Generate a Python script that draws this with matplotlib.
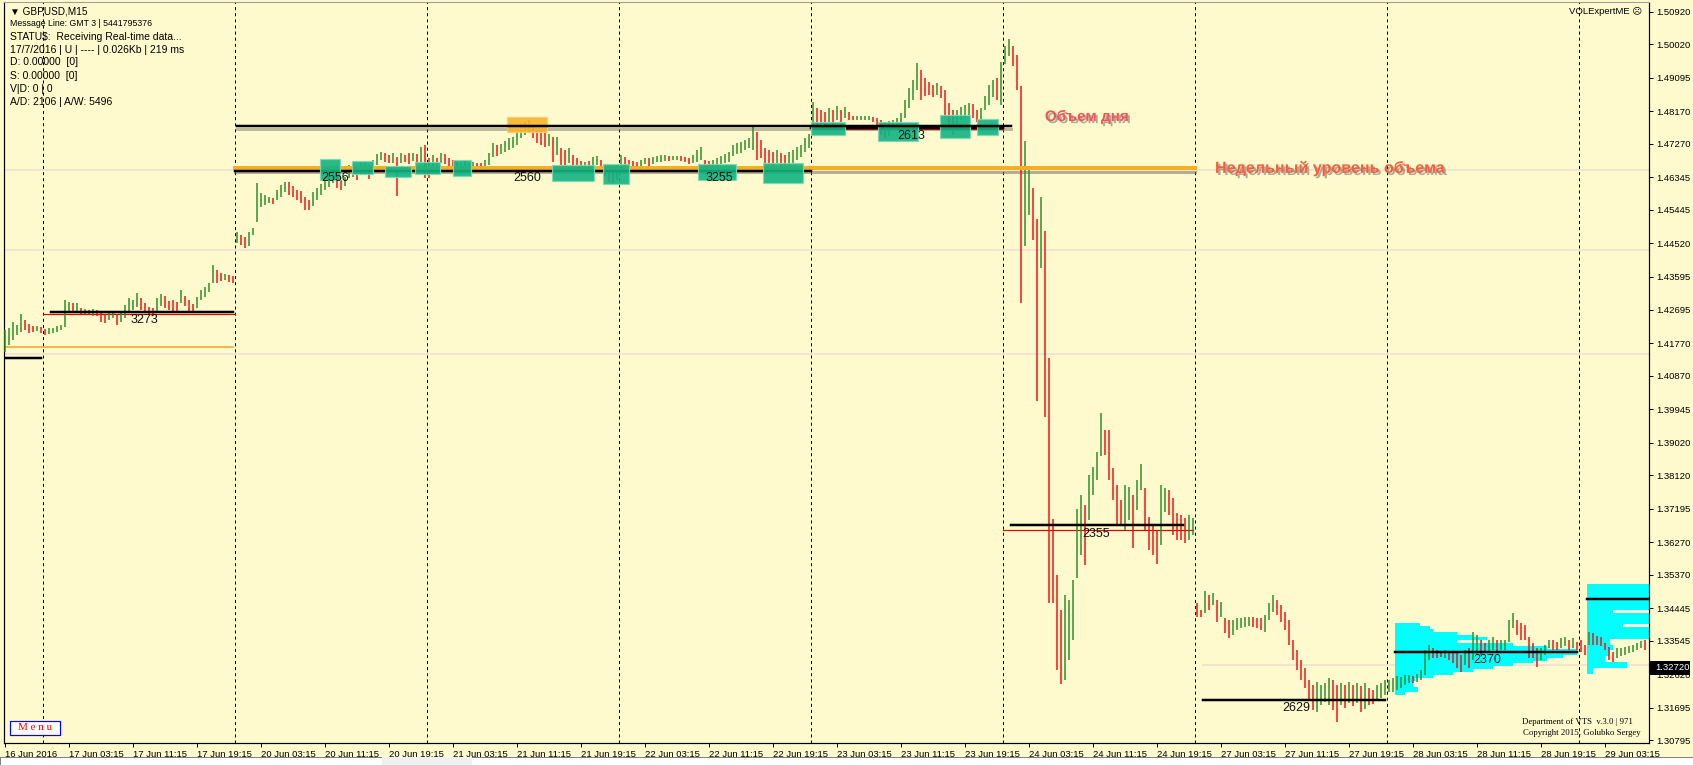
import matplotlib
matplotlib.use('Agg')
import matplotlib.pyplot as plt
import matplotlib.patheffects as pe
from matplotlib.patches import Rectangle
import numpy as np

plt.rcParams['lines.scale_dashes'] = False

W, H = 1693, 765
BG = '#FFFACD'
GREEN = '#2A8E2A'
RED = '#F01212'
FONT = ['Liberation Sans', 'DejaVu Sans']

# --- GBPUSD M15 bars, every second bar (high / low) ---
hi_jun16 = [1.4213, 1.4218, 1.4235, 1.4226, 1.4257, 1.4240, 1.4229, 1.4224, 1.4224, 1.4221]
lo_jun16 = [1.4152, 1.4171, 1.4185, 1.4199, 1.4207, 1.4213, 1.4204, 1.4207, 1.4210, 1.4204]

hi_jun17 = [1.4215, 1.4218, 1.4218, 1.4224, 1.4226, 1.4295, 1.4290, 1.4287, 1.4287, 1.4273,
            1.4271, 1.4268, 1.4271, 1.4268, 1.4262, 1.4257, 1.4262, 1.4260, 1.4257, 1.4262,
            1.4282, 1.4301, 1.4295, 1.4315, 1.4301, 1.4287, 1.4276, 1.4273, 1.4301, 1.4312,
            1.4306, 1.4293, 1.4295, 1.4290, 1.4323, 1.4306, 1.4295, 1.4284, 1.4304, 1.4323,
            1.4331, 1.4342, 1.4392, 1.4378, 1.4370, 1.4367, 1.4364, 1.4362]
lo_jun17 = [1.4199, 1.4202, 1.4204, 1.4207, 1.4213, 1.4221, 1.4262, 1.4260, 1.4262, 1.4254,
            1.4257, 1.4254, 1.4251, 1.4251, 1.4235, 1.4232, 1.4240, 1.4246, 1.4226, 1.4235,
            1.4246, 1.4262, 1.4268, 1.4276, 1.4268, 1.4262, 1.4257, 1.4251, 1.4265, 1.4279,
            1.4273, 1.4268, 1.4262, 1.4262, 1.4287, 1.4279, 1.4265, 1.4260, 1.4273, 1.4295,
            1.4304, 1.4318, 1.4342, 1.4342, 1.4348, 1.4351, 1.4345, 1.4342]

hi_jun20 = [1.4483, 1.4475, 1.4469, 1.4483, 1.4494, 1.4619, 1.4591, 1.4585, 1.4580, 1.4577,
            1.4599, 1.4613, 1.4621, 1.4621, 1.4610, 1.4599, 1.4596, 1.4580, 1.4572, 1.4594,
            1.4605, 1.4616, 1.4627, 1.4641, 1.4649, 1.4638, 1.4627, 1.4635, 1.4668, 1.4671,
            1.4666, 1.4674, 1.4674, 1.4668, 1.4682, 1.4699, 1.4704, 1.4701, 1.4696, 1.4701,
            1.4690, 1.4701, 1.4696, 1.4701, 1.4701, 1.4699, 1.4718, 1.4724]
lo_jun20 = [1.4453, 1.4447, 1.4439, 1.4444, 1.4475, 1.4511, 1.4552, 1.4558, 1.4563, 1.4561,
            1.4572, 1.4580, 1.4594, 1.4585, 1.4580, 1.4572, 1.4563, 1.4544, 1.4544, 1.4555,
            1.4572, 1.4585, 1.4599, 1.4608, 1.4619, 1.4605, 1.4599, 1.4610, 1.4632, 1.4635,
            1.4627, 1.4641, 1.4641, 1.4630, 1.4649, 1.4668, 1.4682, 1.4677, 1.4674, 1.4674,
            1.4583, 1.4674, 1.4677, 1.4671, 1.4679, 1.4674, 1.4674, 1.4632]

hi_jun21 = [1.4688, 1.4696, 1.4688, 1.4701, 1.4699, 1.4688, 1.4682, 1.4677, 1.4674, 1.4679,
            1.4674, 1.4677, 1.4674, 1.4674, 1.4682, 1.4701, 1.4729, 1.4724, 1.4726, 1.4735,
            1.4743, 1.4746, 1.4759, 1.4782, 1.4787, 1.4793, 1.4779, 1.4765, 1.4762, 1.4757,
            1.4754, 1.4746, 1.4746, 1.4715, 1.4710, 1.4715, 1.4696, 1.4688, 1.4679, 1.4677,
            1.4679, 1.4690, 1.4693, 1.4682, 1.4663, 1.4655, 1.4649, 1.4668]
lo_jun21 = [1.4632, 1.4666, 1.4663, 1.4674, 1.4671, 1.4666, 1.4649, 1.4646, 1.4649, 1.4657,
            1.4660, 1.4663, 1.4663, 1.4660, 1.4663, 1.4668, 1.4690, 1.4693, 1.4699, 1.4704,
            1.4710, 1.4715, 1.4724, 1.4743, 1.4751, 1.4757, 1.4743, 1.4729, 1.4724, 1.4718,
            1.4721, 1.4677, 1.4696, 1.4668, 1.4663, 1.4674, 1.4663, 1.4663, 1.4663, 1.4666,
            1.4663, 1.4663, 1.4668, 1.4663, 1.4638, 1.4621, 1.4619, 1.4627]

hi_jun22 = [1.4696, 1.4690, 1.4682, 1.4679, 1.4677, 1.4682, 1.4688, 1.4688, 1.4690, 1.4693,
            1.4696, 1.4696, 1.4693, 1.4693, 1.4693, 1.4693, 1.4690, 1.4688, 1.4696, 1.4710,
            1.4718, 1.4682, 1.4679, 1.4682, 1.4688, 1.4693, 1.4699, 1.4704, 1.4724, 1.4729,
            1.4732, 1.4737, 1.4743, 1.4776, 1.4759, 1.4737, 1.4715, 1.4710, 1.4704, 1.4710,
            1.4701, 1.4696, 1.4704, 1.4710, 1.4718, 1.4724, 1.4743, 1.4754]
lo_jun22 = [1.4668, 1.4668, 1.4666, 1.4663, 1.4663, 1.4666, 1.4671, 1.4666, 1.4671, 1.4677,
            1.4677, 1.4679, 1.4679, 1.4682, 1.4682, 1.4679, 1.4677, 1.4671, 1.4674, 1.4677,
            1.4682, 1.4663, 1.4663, 1.4663, 1.4666, 1.4671, 1.4674, 1.4677, 1.4693, 1.4699,
            1.4701, 1.4710, 1.4715, 1.4710, 1.4682, 1.4688, 1.4674, 1.4668, 1.4666, 1.4674,
            1.4660, 1.4655, 1.4663, 1.4674, 1.4682, 1.4690, 1.4704, 1.4715]

hi_jun23 = [1.4842, 1.4826, 1.4820, 1.4815, 1.4826, 1.4820, 1.4831, 1.4820, 1.4828, 1.4815,
            1.4804, 1.4804, 1.4804, 1.4804, 1.4804, 1.4801, 1.4798, 1.4793, 1.4787, 1.4790,
            1.4793, 1.4798, 1.4812, 1.4848, 1.4881, 1.4903, 1.4950, 1.4931, 1.4909, 1.4897,
            1.4889, 1.4895, 1.4886, 1.4875, 1.4840, 1.4820, 1.4820, 1.4828, 1.4834, 1.4840,
            1.4837, 1.4820, 1.4826, 1.4859, 1.4889, 1.4903, 1.4909, 1.4953]
lo_jun23 = [1.4765, 1.4779, 1.4782, 1.4776, 1.4787, 1.4779, 1.4793, 1.4787, 1.4798, 1.4793,
            1.4793, 1.4793, 1.4793, 1.4793, 1.4793, 1.4787, 1.4765, 1.4751, 1.4743, 1.4748,
            1.4765, 1.4770, 1.4779, 1.4798, 1.4826, 1.4848, 1.4875, 1.4848, 1.4859, 1.4862,
            1.4856, 1.4862, 1.4853, 1.4801, 1.4770, 1.4751, 1.4770, 1.4793, 1.4798, 1.4806,
            1.4798, 1.4787, 1.4793, 1.4820, 1.4834, 1.4856, 1.4848, 1.4834]

hi_jun24 = [1.4997, 1.5016, 1.4997, 1.4972, 1.4886, 1.4735, 1.4655, 1.4605, 1.4519, 1.4580,
            1.4486, 1.4135, 1.3690, 1.3536, 1.3439, 1.3481, 1.3467, 1.3522, 1.3718, 1.3757,
            1.3729, 1.3812, 1.3834, 1.3876, 1.3983, 1.3936, 1.3936, 1.3831, 1.3784, 1.3743,
            1.3784, 1.3779, 1.3757, 1.3798, 1.3842, 1.3776, 1.3696, 1.3674, 1.3660, 1.3784,
            1.3776, 1.3771, 1.3749, 1.3707, 1.3702, 1.3693, 1.3702, 1.3693]
lo_jun24 = [1.4947, 1.4969, 1.4942, 1.4875, 1.4287, 1.4444, 1.4530, 1.4461, 1.4016, 1.4384,
            1.3972, 1.3459, 1.3459, 1.3274, 1.3235, 1.3246, 1.3301, 1.3356, 1.3528, 1.3591,
            1.3563, 1.3688, 1.3757, 1.3798, 1.3865, 1.3867, 1.3798, 1.3743, 1.3674, 1.3674,
            1.3660, 1.3688, 1.3610, 1.3715, 1.3771, 1.3660, 1.3605, 1.3591, 1.3566, 1.3619,
            1.3710, 1.3702, 1.3646, 1.3633, 1.3633, 1.3624, 1.3633, 1.3646]

hi_jun27 = [1.3459, 1.3439, 1.3492, 1.3481, 1.3486, 1.3467, 1.3461, 1.3417, 1.3412, 1.3412,
            1.3417, 1.3417, 1.3420, 1.3420, 1.3420, 1.3417, 1.3417, 1.3425, 1.3459, 1.3481,
            1.3467, 1.3453, 1.3434, 1.3412, 1.3356, 1.3329, 1.3301, 1.3279, 1.3246, 1.3232,
            1.3240, 1.3232, 1.3238, 1.3251, 1.3246, 1.3232, 1.3238, 1.3232, 1.3240, 1.3232,
            1.3238, 1.3229, 1.3238, 1.3224, 1.3218, 1.3232, 1.3238, 1.3246]
lo_jun27 = [1.3420, 1.3420, 1.3431, 1.3439, 1.3453, 1.3406, 1.3420, 1.3376, 1.3362, 1.3370,
            1.3384, 1.3389, 1.3392, 1.3395, 1.3392, 1.3389, 1.3384, 1.3378, 1.3412, 1.3434,
            1.3425, 1.3406, 1.3384, 1.3342, 1.3301, 1.3274, 1.3246, 1.3224, 1.3191, 1.3163,
            1.3157, 1.3177, 1.3185, 1.3177, 1.3163, 1.3130, 1.3177, 1.3169, 1.3182, 1.3174,
            1.3182, 1.3157, 1.3166, 1.3177, 1.3180, 1.3191, 1.3196, 1.3204]

hi_jun28 = [1.3246, 1.3251, 1.3257, 1.3254, 1.3260, 1.3260, 1.3257, 1.3262, 1.3274, 1.3329,
            1.3342, 1.3334, 1.3329, 1.3326, 1.3329, 1.3323, 1.3323, 1.3323, 1.3315, 1.3329,
            1.3334, 1.3378, 1.3370, 1.3356, 1.3348, 1.3356, 1.3365, 1.3356, 1.3356, 1.3356,
            1.3412, 1.3431, 1.3412, 1.3403, 1.3398, 1.3365, 1.3348, 1.3334, 1.3334, 1.3342,
            1.3356, 1.3356, 1.3351, 1.3362, 1.3365, 1.3356, 1.3362, 1.3351]
lo_jun28 = [1.3213, 1.3213, 1.3218, 1.3224, 1.3232, 1.3238, 1.3238, 1.3240, 1.3246, 1.3260,
            1.3301, 1.3307, 1.3307, 1.3309, 1.3307, 1.3301, 1.3293, 1.3279, 1.3268, 1.3287,
            1.3279, 1.3301, 1.3315, 1.3315, 1.3320, 1.3323, 1.3329, 1.3323, 1.3329, 1.3329,
            1.3351, 1.3389, 1.3370, 1.3356, 1.3356, 1.3307, 1.3307, 1.3282, 1.3301, 1.3315,
            1.3334, 1.3329, 1.3329, 1.3334, 1.3340, 1.3329, 1.3334, 1.3329]

hi_jun29 = [1.3356, 1.3342, 1.3378, 1.3376, 1.3367, 1.3365, 1.3348, 1.3337, 1.3323, 1.3334,
            1.3334, 1.3337, 1.3340, 1.3342, 1.3348, 1.3354, 1.3356]
lo_jun29 = [1.3323, 1.3315, 1.3342, 1.3342, 1.3342, 1.3340, 1.3329, 1.3301, 1.3296, 1.3307,
            1.3312, 1.3315, 1.3320, 1.3323, 1.3329, 1.3334, 1.3329]

# time axis (bar index, 15 min bars)
day_breaks = [19, 115, 211, 307, 403, 499, 595, 691, 787]
x_labels = ['16 Jun 2016', '17 Jun 03:15', '17 Jun 11:15', '17 Jun 19:15', '20 Jun 03:15',
            '20 Jun 11:15', '20 Jun 19:15', '21 Jun 03:15', '21 Jun 11:15', '21 Jun 19:15',
            '22 Jun 03:15', '22 Jun 11:15', '22 Jun 19:15', '23 Jun 03:15', '23 Jun 11:15',
            '23 Jun 19:15', '24 Jun 03:15', '24 Jun 11:15', '24 Jun 19:15', '27 Jun 03:15',
            '27 Jun 11:15', '27 Jun 19:15', '28 Jun 03:15', '28 Jun 11:15', '28 Jun 19:15',
            '29 Jun 03:15']
y_ticks = [1.50920, 1.50020, 1.49095, 1.48170, 1.47270, 1.46345, 1.45445, 1.44520, 1.43595,
           1.42695, 1.41770, 1.40870, 1.39945, 1.39020, 1.38120, 1.37195, 1.36270, 1.35370,
           1.34445, 1.33545, 1.32620, 1.31695, 1.30795]
last_price = 1.32720

# daily / weekly volume levels: price, first bar, last bar
day_lvl_price = [1.4135, 1.4262, 1.4652, 1.4772, 1.3674, 1.3191, 1.3323, 1.3470]
day_lvl_t0 = [0, 23, 115, 403, 503, 599, 695, 791]
day_lvl_t1 = [18, 114, 403, 499, 589, 690, 786, 822]
red_lvl_price = [1.4258, 1.4769, 1.3660]
red_lvl_t0 = [19, 403, 499]
red_lvl_t1 = [115, 499, 594]
week_price = 1.4775
week_t = [116, 503]
week_vol_price = 1.4659
week_vol_t = [115, 595]
prev_week_price = 1.4166
prev_week_t = [0, 114]
faint_price = [1.4655, 1.4434, 1.4146]
bid_line = 1.3287

vol_text = ['3273', '2556', '2560', '3255', '2613', '2355', '2629', '2370']
vol_text_t = [69.5, 165, 261, 357, 453, 545.5, 645.5, 741]
vol_text_p = [1.4240, 1.4632, 1.4632, 1.4632, 1.4748, 1.3649, 1.3169, 1.3301]

# high volume zones
box_t0 = [157.5, 173.5, 190, 205, 224, 273.5, 299, 346.5, 379, 403, 436.5, 467.5, 486]
box_t1 = [167.5, 184, 203, 217.5, 233, 294.5, 312, 365.5, 399, 420, 456.5, 482.5, 496.5]
box_top = [1.4685, 1.4679, 1.4666, 1.4677, 1.4682, 1.4668, 1.4671, 1.4671, 1.4674,
           1.4787, 1.4787, 1.4806, 1.4795]
box_bot = [1.4627, 1.4643, 1.4635, 1.4643, 1.4638, 1.4624, 1.4616, 1.4627, 1.4619,
           1.4751, 1.4735, 1.4743, 1.4751]
peak_box = [251, 271, 1.4801, 1.4759]

# volume profiles
prof28_price = [1.3400, 1.3392, 1.3384, 1.3376, 1.3368, 1.3360, 1.3352, 1.3344, 1.3336,
                1.3328, 1.3320, 1.3312, 1.3304, 1.3296, 1.3288, 1.3280, 1.3272, 1.3264,
                1.3256, 1.3248, 1.3240, 1.3232, 1.3224, 1.3216, 1.3208]
prof28_vol = [25, 35, 38, 62, 78, 92, 62, 118, 152, 182, 182, 168, 152, 138, 118, 98, 78,
              58, 38, 20, 18, 18, 23, 23, 10]
prof29_price = [1.3508, 1.3500, 1.3492, 1.3484, 1.3476, 1.3468, 1.3460, 1.3452, 1.3444,
                1.3436, 1.3428, 1.3420, 1.3412, 1.3404, 1.3396, 1.3388, 1.3380, 1.3372,
                1.3364, 1.3356, 1.3348, 1.3340, 1.3332, 1.3324, 1.3316, 1.3308, 1.3300,
                1.3292, 1.3284, 1.3276, 1.3268]
prof29_vol = [95, 95, 95, 95, 95, 95, 95, 95, 95, 26, 95, 95, 95, 95, 36, 95, 95, 95, 95,
              23, 23, 26, 26, 23, 23, 18, 18, 40, 40, 6, 6]
prof_start = [695, 791]

info_lines = ['Message Line: GMT 3 | 5441795376', 'STATU$:  Receiving Real-time data...',
              '17/7/2016 | U | ---- | 0.026Kb | 219 ms', 'D: 0.00000  [0]', 'S: 0.00000  [0]',
              'V|D: 0 | 0', 'A/D: 2106 | A/W: 5496']


def px(v):
    return v * 0.72


fig = plt.figure(figsize=(W / 100, H / 100), dpi=100, facecolor=BG)
ax = fig.add_axes([4 / W, 22 / H, 1645 / W, 741 / H])
ax.set_facecolor(BG)
ax.set_xlim(-0.5, 822)
ax.set_ylim(1.30724, 1.51188)

# faint lines
for p in faint_price:
    ax.axhline(p, color='#F3E3D3', lw=px(2), zorder=0)
ax.plot([599, 822], [bid_line, bid_line], color='#F3E3D3', lw=px(2), zorder=0)

for d in day_breaks:
    ax.axvline(d, color='black', lw=px(1), ls=(0, (2.2, 2.2)), zorder=1)

# weekly lines with shadow
ax.plot(week_t, [week_price - 0.0008] * 2, color='#7C7C70', lw=px(3), alpha=0.5, zorder=2)
ax.plot(week_t, [week_price] * 2, color='black', lw=px(2.5), zorder=5)
ax.plot(week_vol_t, [week_vol_price - 0.0009] * 2, color='#6E6454', lw=px(3), alpha=0.5, zorder=2)
ax.plot(prev_week_t, [prev_week_price] * 2, color='#F5A020', lw=px(1.5), zorder=2)

for p, a, b in zip(red_lvl_price, red_lvl_t0, red_lvl_t1):
    ax.plot([a, b], [p, p], color='#E00000', lw=px(1.2), zorder=2)

# profiles
for start, prices, vols in [(prof_start[0], prof28_price, prof28_vol),
                            (prof_start[1], prof29_price, prof29_vol)]:
    ax.barh(prices, np.array(vols) * 0.5, left=start, height=0.00080, color='#00FFFF',
            align='center', zorder=2, linewidth=0)

# bars
hi = np.array(hi_jun16 + hi_jun17 + hi_jun20 + hi_jun21 + hi_jun22 + hi_jun23 + hi_jun24 +
              hi_jun27 + hi_jun28 + hi_jun29)
lo = np.array(lo_jun16 + lo_jun17 + lo_jun20 + lo_jun21 + lo_jun22 + lo_jun23 + lo_jun24 +
              lo_jun27 + lo_jun28 + lo_jun29)
idx = np.arange(len(hi)) * 2
mid = (hi + lo) / 2
up = np.r_[True, mid[1:] >= mid[:-1]]
ax.vlines(idx, lo, hi, colors=np.where(up, GREEN, RED), lw=px(1.5), zorder=3)

# volume levels
ax.plot(week_vol_t, [week_vol_price] * 2, color='#F5B021', lw=px(4), zorder=4)
for p, a, b in zip(day_lvl_price, day_lvl_t0, day_lvl_t1):
    ax.plot([a, b], [p, p], color='black', lw=px(2.5), zorder=4)

# high volume zones drawn over the levels, bars still showing through
for a, b, t, s in zip(box_t0, box_t1, box_top, box_bot):
    ax.add_patch(Rectangle((a, s), b - a, t - s, facecolor='#10B482', edgecolor='#7ED8B8',
                           lw=px(1.2), alpha=0.9, zorder=4.5))
ax.add_patch(Rectangle((peak_box[0], peak_box[3]), peak_box[1] - peak_box[0],
                       peak_box[2] - peak_box[3], facecolor='#F8B32A', edgecolor='#F9CD7A',
                       lw=px(1.2), alpha=0.9, zorder=4.5))

for s, t, p in zip(vol_text, vol_text_t, vol_text_p):
    ax.text(t, p, s, fontsize=9, family=FONT, ha='center', va='center', color='#111111', zorder=6)

shadow = [pe.SimplePatchShadow(offset=(1.5, -1.5), shadow_rgbFace='#777777', alpha=0.6), pe.Normal()]
ax.text(541, 1.4801, 'Объем дня', fontsize=11, fontweight='bold', family=FONT, color='#F05656',
        ha='center', va='center', path_effects=shadow, zorder=6)
ax.text(605, 1.4660, 'Недельный уровень объема', fontsize=11.6, fontweight='bold', family=FONT,
        color='#F5603A', ha='left', va='center', path_effects=shadow, zorder=6)

# axes styling
ax.yaxis.tick_right()
ax.set_yticks(y_ticks)
ax.set_yticklabels([f'{v:.5f}' for v in y_ticks], fontsize=6.8, family=FONT)
ax.set_xticks(np.arange(len(x_labels)) * 32)
ax.set_xticklabels(x_labels, fontsize=6.8, family=FONT, ha='left')
ax.tick_params(axis='y', length=3, width=px(1), pad=2)
ax.tick_params(axis='x', length=3, width=px(1), pad=2)
for sp in ['left', 'right', 'bottom']:
    ax.spines[sp].set_linewidth(px(1.2))
ax.spines['top'].set_color('#A0A0A0')

# price label box
fig.patches.append(Rectangle((1650 / W, 1 - 675 / H), 40 / W, 14 / H, transform=fig.transFigure,
                             facecolor='black', edgecolor='none', zorder=5))
fig.text(1655 / W, 1 - 668 / H, f'{last_price:.5f}', fontsize=6.8, family=FONT, color='white',
         va='center', zorder=6)

# info text
fig.text(10 / W, 1 - 12 / H, '▼ GBPUSD,M15', fontsize=7.2, family=FONT, va='center')
info_y = [24, 37, 50, 62, 76, 89, 102]
for i, line in enumerate(info_lines):
    fig.text(10 / W, 1 - info_y[i] / H, line, fontsize=6.3 if i == 0 else 7.5, family=FONT,
             va='center')
fig.text(1642 / W, 1 - 12 / H, 'VOLExpertME ☹', fontsize=6.8, family=FONT, ha='right',
         va='center')
fig.text(1633 / W, 1 - 722 / H, 'Department of VTS  v.3.0 | 971', fontsize=6.3,
         family=['Liberation Serif', 'DejaVu Serif'], ha='right', va='center')
fig.text(1641 / W, 1 - 733 / H, 'Copyright 2015, Golubko Sergey', fontsize=6.3,
         family=['Liberation Serif', 'DejaVu Serif'], ha='right', va='center')

# menu button
fig.patches.append(Rectangle((10 / W, 1 - 735 / H), 50 / W, 14 / H, transform=fig.transFigure,
                             facecolor='white', edgecolor='#0000FF', lw=px(1.2), zorder=5))
fig.text(35 / W, 1 - 728 / H, 'M e n u', fontsize=8, family=['Liberation Serif', 'DejaVu Serif'],
         color='#FF0000', ha='center', va='center', zorder=6)

# bottom strip
fig.patches.append(Rectangle((0, 0), 1, 8 / H, transform=fig.transFigure, facecolor='white',
                             edgecolor='#808080', lw=px(1)))
fig.patches.append(Rectangle((382 / W, 0), 90 / W, 8 / H, transform=fig.transFigure,
                             facecolor='#F0F0F0', edgecolor='none'))

fig.savefig('out.png', dpi=100, facecolor=BG)
